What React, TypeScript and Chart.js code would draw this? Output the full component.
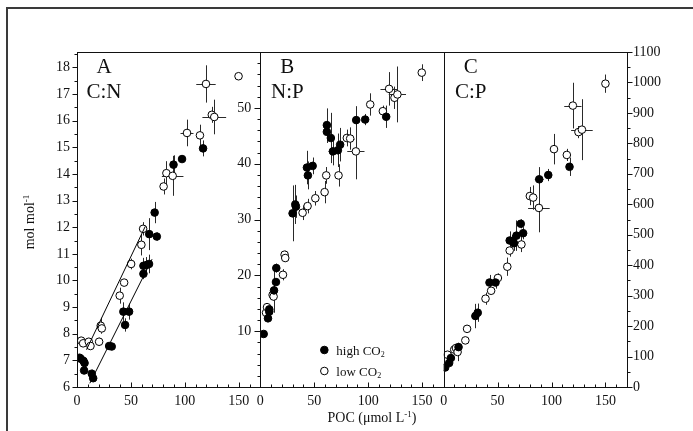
import React, { useEffect, useRef } from "react";
import { Chart, registerables } from "chart.js";

Chart.register(...registerables);

// [POC (µmol L-1), ratio (mol mol-1), horizontal error, vertical error]
type Obs = [number, number, number, number];

// Panel A — C:N
const cnHigh: Obs[] = [
  [2.4, 7.1, 0, 0], [3.5, 7.06, 0, 0], [6, 6.98, 0, 0], [7, 6.9, 0, 0.05],
  [6.6, 6.62, 0, 0], [13.7, 6.5, 0, 0.15], [15, 6.33, 0, 0.1],
  [29.8, 7.54, 0, 0.1], [32.2, 7.52, 0, 0.12], [43, 8.83, 0, 0.35],
  [48.3, 8.83, 0, 0.3], [44.6, 8.33, 0, 0.25], [61.6, 10.25, 0, 0.2],
  [61.6, 10.55, 0, 0.3], [64.4, 10.58, 0, 0.3], [66.8, 10.62, 0, 0.35],
  [67, 11.74, 0, 0.6], [74, 11.65, 0, 0.15], [72, 12.55, 0, 0.4],
  [89.5, 14.35, 0, 0.35], [97.4, 14.56, 0, 0.1], [116.9, 14.96, 0, 0.3],
];
const cnLow: Obs[] = [
  [3.9, 7.74, 0, 0], [5.7, 7.64, 0, 0], [10.9, 7.7, 0, 0], [12.5, 7.54, 0, 0.1],
  [20.5, 7.7, 0, 0.15], [22, 8.3, 0, 0.3], [23, 8.2, 0, 0.1],
  [39.6, 9.43, 0, 0.3], [43.7, 9.92, 0, 0.1], [50.2, 10.62, 2, 0.2],
  [59.7, 11.34, 3, 0.4], [61.3, 11.94, 0, 0.25], [80.3, 13.53, 0, 0.3],
  [82.9, 14.03, 3, 0.45], [88.7, 13.93, 10, 0.75], [102, 15.54, 6, 0.5],
  [114, 15.45, 0, 0.4], [119.6, 17.38, 9, 0.7], [125, 16.22, 0, 0.3],
  [127.3, 16.14, 11, 0.65], [149.8, 17.67, 0, 0.06],
];
const cnFitHigh: [number, number][] = [[11.9, 6.14], [69.6, 10.8]];
const cnFitLow: [number, number][] = [[8.8, 7.4], [63.3, 12.03]];

// Panel B — N:P
const npHigh: Obs[] = [
  [3.1, 9.5, 0, 0], [7.1, 12.3, 0, 0.5], [8.3, 13.5, 0, 0.6], [8.3, 13.9, 0, 0.6],
  [12.7, 17.3, 0, 4], [14.5, 18.8, 0, 0], [14.8, 21.3, 0, 0.8],
  [29.9, 31.1, 0, 5], [32.4, 32.7, 0, 3.5], [33, 32.3, 0, 2],
  [43.2, 39.3, 0, 3], [44.1, 37.9, 0, 2.5], [48.5, 39.6, 0, 1.5],
  [61.7, 46.9, 0, 3], [61.7, 45.7, 0, 2], [65.4, 44.6, 0, 4.5],
  [67.3, 42.2, 4, 2.5], [71.9, 42.4, 0, 3], [74, 43.4, 0, 3],
  [88.9, 47.8, 0, 2.5], [97.2, 47.9, 0, 1], [116.7, 48.4, 0, 2],
];
const npLow: Obs[] = [
  [5.3, 13.3, 0, 0.5], [6.2, 14.3, 0, 0.5], [11.4, 16.5, 0, 1], [12.3, 16.2, 0, 0.5],
  [21, 20.1, 0, 1], [22.5, 23.7, 0, 0.7], [23.1, 23.1, 0, 0.5],
  [39.2, 31.2, 0, 1.3], [43.8, 32.4, 0, 1.3], [51, 33.8, 2, 1.3],
  [59.6, 34.9, 3, 2], [61.1, 37.9, 0, 1.5], [72.5, 37.9, 0, 2],
  [80.2, 44.6, 0, 1.5], [83.3, 44.5, 4, 2], [88.6, 42.2, 8, 5],
  [101.9, 50.6, 3, 2], [113.6, 49.4, 0, 1], [119.4, 53.4, 8, 3],
  [124.4, 51.8, 0, 2], [127.1, 52.4, 8, 5], [149.7, 56.3, 0, 1.5],
];

// Panel C — C:P
const cpHigh: Obs[] = [
  [1.4, 64, 0, 0], [5.1, 79, 0, 10], [6.7, 95, 0, 15], [13.8, 131, 0, 10],
  [29.4, 233, 0, 40], [31.6, 244, 0, 30], [42.5, 343, 0, 25], [48.1, 343, 0, 20],
  [61.2, 481, 0, 30], [63.7, 479, 0, 20], [65.2, 472, 0, 25], [67.5, 497, 0, 50],
  [71.5, 536, 0, 15], [73.7, 505, 0, 20], [88.6, 682, 4, 40], [97, 696, 0, 20],
  [116.7, 723, 0, 30],
];
const cpLow: Obs[] = [
  [3.6, 106, 0, 10], [9.8, 123, 0, 10], [11.4, 128, 0, 10], [12.9, 115, 0, 30],
  [20.1, 153, 0, 8], [21.7, 191, 0, 10], [38.8, 290, 0, 20], [44, 316, 0, 10],
  [50.3, 358, 0, 15], [59, 395, 0, 30], [61.2, 448, 0, 20], [72.1, 468, 0, 25],
  [79.9, 627, 0, 30], [83, 622, 0, 40], [88.3, 588, 10, 80], [102.3, 781, 3, 50],
  [114.2, 762, 0, 20], [119.8, 924, 8, 75], [125, 837, 0, 20], [128.2, 845, 10, 100],
  [150, 996, 0, 30],
];

// Axes / labels
const pocMax = 170;
const pocLabels = [0, 50, 100, 150];
const cnMin = 6, cnMax = 18.58;
const cnLabels = [6, 7, 8, 9, 10, 11, 12, 13, 14, 15, 16, 17, 18];
const npMin = 0, npMax = 60;
const npLabels = [10, 20, 30, 40, 50];
const cpMin = 0, cpMax = 1100;
const cpLabels = [0, 100, 200, 300, 400, 500, 600, 700, 800, 900, 1000, 1100];
const panelLetters = ["A", "B", "C"];
const panelRatios = ["C:N", "N:P", "C:P"];
const legendLabels = ["high CO", "low CO"];
const yTitle = "mol mol";
const xTitle = "POC (μmol L";

const FONT = '"Liberation Serif", "Times New Roman", Times, serif';
const INK = "#111";

const range = (a: number, b: number, s: number) =>
  Array.from({ length: Math.round((b - a) / s) + 1 }, (_, i) => Math.round((a + i * s) * 1e6) / 1e6);

const toPts = (arr: Obs[]) => arr.map(([x, y, xe, ye]) => ({ x, y, xe, ye }));
const toLine = (arr: [number, number][]) => arr.map(([x, y]) => ({ x, y }));

const filled = {
  pointRadius: 3.8, pointBackgroundColor: "#000", pointBorderColor: "#000",
  pointBorderWidth: 1, showLine: false, errorBars: true,
};
const open = {
  pointRadius: 3.8, pointBackgroundColor: "#fff", pointBorderColor: "#000",
  pointBorderWidth: 1, showLine: false, errorBars: true,
};
const fitLine = { showLine: true, pointRadius: 0, borderColor: "#000", borderWidth: 1, fill: false };

function drawRich(ctx: CanvasRenderingContext2D, parts: { t: string; s?: "sup" | "sub" }[], x: number, y: number, size: number, align: "left" | "center") {
  const small = Math.round(size * 0.65);
  let total = 0;
  const widths = parts.map((p) => {
    ctx.font = `${p.s ? small : size}px ${FONT}`;
    const w = ctx.measureText(p.t).width;
    total += w;
    return w;
  });
  let cx = align === "center" ? x - total / 2 : x;
  ctx.textAlign = "left";
  ctx.textBaseline = "alphabetic";
  parts.forEach((p, i) => {
    ctx.font = `${p.s ? small : size}px ${FONT}`;
    const dy = p.s === "sup" ? -size * 0.38 : p.s === "sub" ? size * 0.22 : 0;
    ctx.fillText(p.t, cx, y + dy);
    cx += widths[i];
  });
}

const decor = {
  id: "decor",
  beforeDraw(chart: any) {
    const ctx = chart.ctx;
    ctx.save();
    ctx.fillStyle = "#fff";
    ctx.fillRect(0, 0, chart.width, chart.height);
    ctx.restore();
  },
  beforeDatasetsDraw(chart: any) {
    const ctx = chart.ctx;
    ctx.save();
    ctx.strokeStyle = "#2a2a2a";
    ctx.lineWidth = 1;
    chart.data.datasets.forEach((ds: any, i: number) => {
      if (!ds.errorBars) return;
      const meta = chart.getDatasetMeta(i);
      const xs = meta.xScale, ys = meta.yScale;
      ds.data.forEach((p: any) => {
        const px = Math.round(xs.getPixelForValue(p.x)) + 0.5;
        const py = Math.round(ys.getPixelForValue(p.y)) + 0.5;
        ctx.beginPath();
        if (p.ye) {
          ctx.moveTo(px, ys.getPixelForValue(p.y + p.ye));
          ctx.lineTo(px, ys.getPixelForValue(p.y - p.ye));
        }
        if (p.xe) {
          ctx.moveTo(xs.getPixelForValue(p.x - p.xe), py);
          ctx.lineTo(xs.getPixelForValue(p.x + p.xe), py);
        }
        ctx.stroke();
      });
    });
    ctx.restore();
  },
  afterDraw(chart: any) {
    const { ctx, chartArea: a, scales } = chart;
    const { xA, xB, xC, yA, yB, yC } = scales;
    ctx.save();
    // outer frame (top and left edges)
    ctx.fillStyle = "#3a3a3a";
    ctx.fillRect(6, 7, chart.width, 2);
    ctx.fillRect(6, 7, 2, chart.height);

    // panel borders
    ctx.strokeStyle = INK;
    ctx.lineWidth = 1;
    const L = Math.round(a.left) + 0.5, R = Math.round(a.right) + 0.5;
    const T = Math.round(a.top) + 0.5, B = Math.round(a.bottom) + 0.5;
    ctx.strokeRect(L, T, R - L, B - T);
    const line = (x1: number, y1: number, x2: number, y2: number) => {
      ctx.beginPath(); ctx.moveTo(x1, y1); ctx.lineTo(x2, y2); ctx.stroke();
    };
    const xbL = Math.round(xB.left) + 0.5, xcL = Math.round(xC.left) + 0.5;
    line(xbL, T, xbL, B);
    line(xcL, T, xcL, B);

    // x ticks (inward)
    [xA, xB, xC].forEach((s: any) => {
      range(0, pocMax, 10).forEach((v) => {
        const px = Math.round(s.getPixelForValue(v)) + 0.5;
        const len = v % 50 === 0 ? 5 : 3;
        line(px, B, px, B - len);
      });
    });
    // y ticks A (outward left)
    range(cnMin, 18.5, 0.5).forEach((v) => {
      const py = Math.round(yA.getPixelForValue(v)) + 0.5;
      line(L, py, L - (Number.isInteger(v) ? 5 : 3), py);
    });
    // y ticks B (outward left of panel B)
    range(npMin, npMax, 2).forEach((v) => {
      const py = Math.round(yB.getPixelForValue(v)) + 0.5;
      line(xbL, py, xbL - (v % 10 === 0 ? 6 : 3), py);
    });
    // y ticks C (outward right)
    range(cpMin, cpMax, 50).forEach((v) => {
      const py = Math.round(yC.getPixelForValue(v)) + 0.5;
      line(R, py, R + (v % 100 === 0 ? 5 : 3), py);
    });

    // panel B tick labels
    ctx.fillStyle = INK;
    ctx.font = `14px ${FONT}`;
    ctx.textAlign = "right";
    ctx.textBaseline = "middle";
    npLabels.forEach((v) => ctx.fillText(String(v), xB.left - 9, yB.getPixelForValue(v)));

    // panel letters
    ctx.textAlign = "center";
    ctx.textBaseline = "alphabetic";
    ctx.font = `21px ${FONT}`;
    [xA, xB, xC].forEach((s: any, i: number) => {
      ctx.fillText(panelLetters[i], s.left + 27, a.top + 21);
      ctx.fillText(panelRatios[i], s.left + 27, a.top + 46);
    });

    // legend
    const lx = xB.left + 64;
    const ly = [a.bottom - 37, a.bottom - 16];
    [0, 1].forEach((i) => {
      ctx.beginPath();
      ctx.arc(lx, ly[i], 3.8, 0, Math.PI * 2);
      ctx.fillStyle = i === 0 ? "#000" : "#fff";
      ctx.fill();
      ctx.strokeStyle = "#000";
      ctx.stroke();
      ctx.fillStyle = INK;
      drawRich(ctx, [{ t: legendLabels[i] }, { t: "2", s: "sub" }], lx + 12, ly[i] + 4.5, 13, "left");
    });

    // axis titles
    drawRich(ctx, [{ t: xTitle }, { t: "-1", s: "sup" }, { t: ")" }], 372, 422, 14, "center");
    ctx.save();
    ctx.translate(34, 222);
    ctx.rotate(-Math.PI / 2);
    drawRich(ctx, [{ t: yTitle }, { t: "-1", s: "sup" }], 0, 0, 14, "center");
    ctx.restore();

    ctx.restore();
  },
};

const xScale = () => ({
  type: "linear",
  position: "bottom",
  stack: "poc",
  min: 0,
  max: pocMax,
  grid: { display: false, drawTicks: false },
  border: { display: false },
  ticks: {
    autoSkip: false,
    maxRotation: 0,
    minRotation: 0,
    padding: 6,
    color: INK,
    font: { family: FONT, size: 14 },
    callback: (v: any) => (pocLabels.includes(Number(v)) ? String(v) : ""),
  },
  afterBuildTicks: (s: any) => { s.ticks = range(0, pocMax, 10).map((value) => ({ value })); },
  afterFit: (s: any) => { s.height = 44; },
});

export default function App() {
  const ref = useRef<HTMLCanvasElement>(null);
  useEffect(() => {
    const chart = new Chart(ref.current as HTMLCanvasElement, {
      type: "scatter",
      data: {
        datasets: [
          { label: "C:N fit high", data: toLine(cnFitHigh), xAxisID: "xA", yAxisID: "yA", ...fitLine },
          { label: "C:N fit low", data: toLine(cnFitLow), xAxisID: "xA", yAxisID: "yA", ...fitLine },
          { label: "C:N high CO2", data: toPts(cnHigh), xAxisID: "xA", yAxisID: "yA", ...filled },
          { label: "C:N low CO2", data: toPts(cnLow), xAxisID: "xA", yAxisID: "yA", ...open },
          { label: "N:P high CO2", data: toPts(npHigh), xAxisID: "xB", yAxisID: "yB", ...filled },
          { label: "N:P low CO2", data: toPts(npLow), xAxisID: "xB", yAxisID: "yB", ...open },
          { label: "C:P high CO2", data: toPts(cpHigh), xAxisID: "xC", yAxisID: "yC", ...filled },
          { label: "C:P low CO2", data: toPts(cpLow), xAxisID: "xC", yAxisID: "yC", ...open },
        ] as any,
      },
      options: {
        responsive: false,
        animation: false,
        events: [],
        layout: { padding: { top: 52, left: 0, right: 0, bottom: 0 } },
        plugins: { legend: { display: false }, tooltip: { enabled: false }, title: { display: false } },
        scales: {
          xA: xScale(),
          xB: xScale(),
          xC: xScale(),
          yA: {
            type: "linear",
            position: "left",
            min: cnMin,
            max: cnMax,
            grid: { display: false, drawTicks: false },
            border: { display: false },
            ticks: {
              autoSkip: false,
              padding: 7,
              color: INK,
              font: { family: FONT, size: 14 },
              callback: (v: any) => (cnLabels.includes(Number(v)) ? String(v) : ""),
            },
            afterBuildTicks: (s: any) => { s.ticks = range(cnMin, 18.5, 0.5).map((value) => ({ value })); },
            afterFit: (s: any) => { s.width = 77; },
          },
          yB: {
            type: "linear",
            position: "left",
            display: false,
            min: npMin,
            max: npMax,
          },
          yC: {
            type: "linear",
            position: "right",
            min: cpMin,
            max: cpMax,
            grid: { display: false, drawTicks: false },
            border: { display: false },
            ticks: {
              autoSkip: false,
              padding: 6,
              color: INK,
              font: { family: FONT, size: 14 },
              callback: (v: any) => (cpLabels.includes(Number(v)) ? String(v) : ""),
            },
            afterBuildTicks: (s: any) => { s.ticks = range(cpMin, cpMax, 50).map((value) => ({ value })); },
            afterFit: (s: any) => { s.width = 66; },
          },
        } as any,
      },
      plugins: [decor],
    } as any);
    return () => chart.destroy();
  }, []);
  return (
    <div style={{ position: "fixed", left: 0, top: 0, width: 693, height: 431, background: "#fff" }}>
      <canvas ref={ref} width={693} height={431} style={{ display: "block", width: 693, height: 431 }} />
    </div>
  );
}
